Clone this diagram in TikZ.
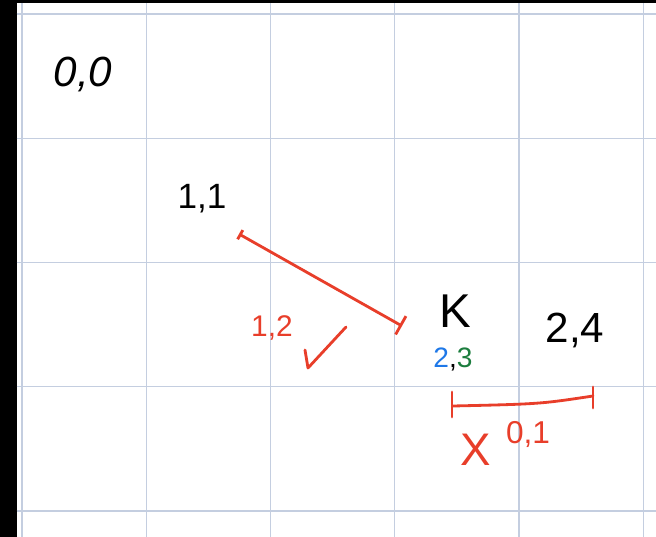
\documentclass[tikz,border=0pt]{standalone}
\usepackage{fontspec}
\setmainfont{Liberation Sans}
\usetikzlibrary{arrows.meta}
\definecolor{penred}{RGB}{232,62,42}
\definecolor{penblue}{RGB}{30,120,232}
\definecolor{pengreen}{RGB}{28,125,62}
\definecolor{gridcol}{RGB}{196,206,224}

\begin{document}
\begin{tikzpicture}[x=0.02cm,y=-0.02cm,
  gridline/.style={draw=gridcol,line width=0.8pt},
  pen/.style={line width=1.6pt,line cap=round,line join=round},
  lab/.style={inner sep=0pt,anchor=base}]
\useasboundingbox (0,0) rectangle (656,537);
% paper
\fill[black](-2,-2) rectangle (16.5,539);
\fill[black](-2,-2) rectangle (658,3.5);
\foreach \x in {22,146.3,270.5,394.7,519,643.2}
  \draw[gridline](\x,3.5)--(\x,539);
\foreach \y in {14,138.3,262.5,386.7,511}
  \draw[gridline](16.5,\y)--(658,\y);
% labels
\node[lab,font=\fontsize{24}{28}\selectfont\itshape](start) at (83,87){0,0};
\node[lab,font=\fontsize{20}{24}\selectfont](one) at (202,208){1,1};
\node[lab,font=\fontsize{27}{30}\selectfont](k) at (455,327){K};
\node[lab,font=\fontsize{24}{28}\selectfont](two) at (575,342){2,4};
\node[lab,font=\fontsize{16}{20}\selectfont](kval) at (453,367){{\color{penblue}2},{\color{pengreen}3}};
\node[lab,font=\fontsize{17}{20}\selectfont,text=penred](cost) at (272,336){1,2};
\node[lab,font=\fontsize{26}{30}\selectfont,text=penred](cross) at (476,465){X};
\node[lab,font=\fontsize{18}{22}\selectfont,text=penred](costb) at (528,443){0,1};
% red marks
\coordinate (a1) at (239,234);
\coordinate (a2) at (402,326);
\draw[pen,penred,{Bar[width=6pt]}-{Bar[width=12pt]}](a1)--(a2);
\draw[pen,penred](305,350)--(308,368)--(346,327);
\coordinate (b1) at (453,406);
\coordinate (b2) at (593,396);
\draw[pen,penred](b1) .. controls (540,404) .. (b2);
\draw[pen,penred](452,392)--(452,417);
\draw[pen,penred](593,387)--(593,408);
\end{tikzpicture}
\end{document}
